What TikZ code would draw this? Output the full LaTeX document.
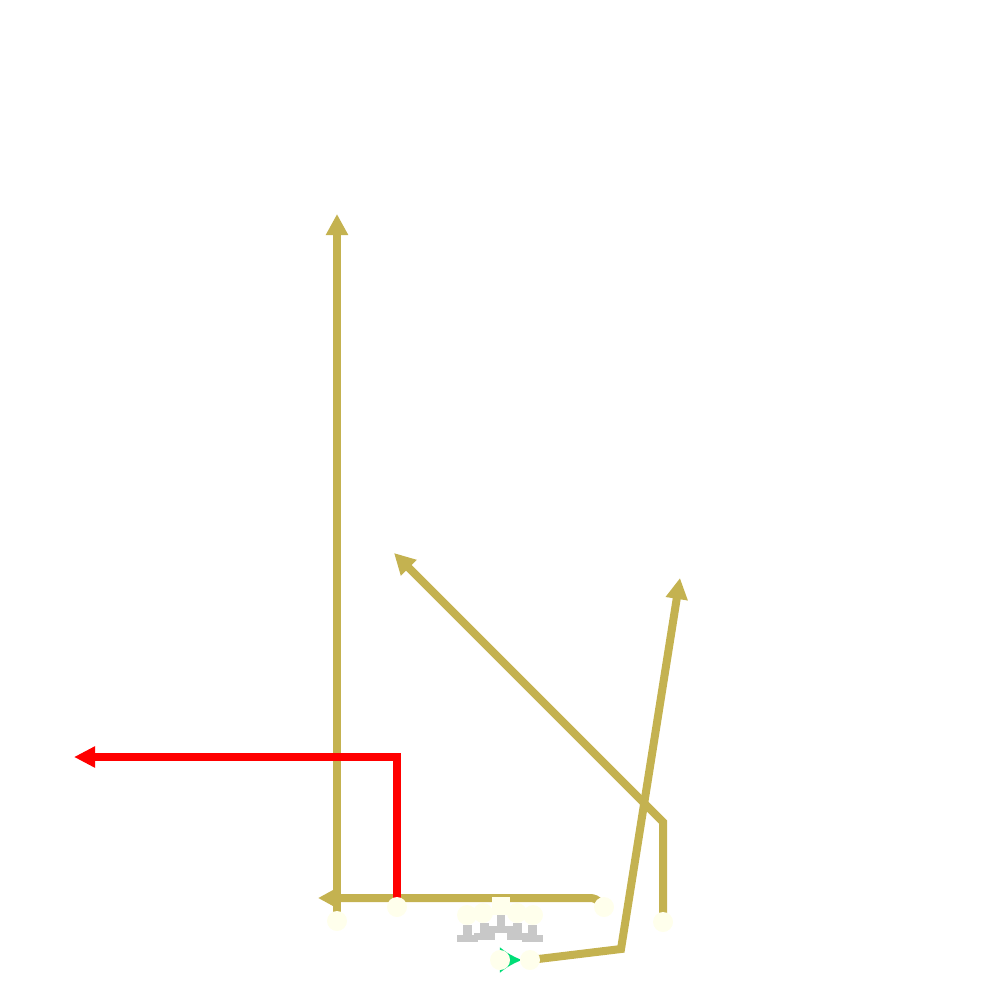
\documentclass[tikz,border=0pt]{standalone}
\usetikzlibrary{arrows.meta}
\definecolor{routegold}{RGB}{196,178,80}
\definecolor{playerivory}{RGB}{255,255,236}
\definecolor{blockgray}{RGB}{200,200,200}
\definecolor{motiongreen}{RGB}{0,221,119}
\pgfdeclarelayer{bg}
\pgfsetlayers{bg,main}
\begin{document}
\begin{tikzpicture}[x=0.01cm,y=-0.01cm,
  player/.style={circle,fill=playerivory,minimum size=0.2cm,inner sep=0pt},
  centerman/.style={rectangle,fill=playerivory,minimum size=0.18cm,inner sep=0pt},
  route/.style={draw=routegold,line width=0.08cm,-{Triangle[length=0.21cm,width=0.21cm]}},
  redroute/.style={draw=red,line width=0.085cm,-{Triangle[length=0.21cm,width=0.2cm]}},
  motion/.style={draw=motiongreen,line width=0.03cm,-{Latex[length=0.22cm,width=0.26cm]}},
  block/.style={fill=blockgray}]
\useasboundingbox (0,0) rectangle (1000,1000);
% players
\node[player] (wrL) at (337,921) {};
\node[player] (slot) at (397,907) {};
\node[player] (lt) at (467,915) {};
\node[player] (lg) at (483,913) {};
\node[centerman] (ctr) at (501,906) {};
\node[player] (rg) at (517,913) {};
\node[player] (rt) at (533,915) {};
\node[player] (te) at (604,907) {};
\node[player] (wrR) at (663,922) {};
\node[player] (qb) at (500,960) {};
\node[player] (rb) at (530,960) {};
% route end points
\coordinate (tipTop) at (337,214);
\coordinate (tipRed) at (74,757);
\coordinate (cRed) at (397,757);
\coordinate (tipFlat) at (318,898);
\coordinate (cFlat) at (604,898);
\coordinate (cPost) at (663,822);
\coordinate (tipPost) at (394,553);
\coordinate (cCross) at (621,949);
\coordinate (tipCross) at (680,578);
\coordinate (tipMotion) at (522,960);
\begin{pgfonlayer}{bg}
  % blocking marks
  \foreach \n/\x/\y in {lt/467/925,lg/484/923,rg/517/923,rt/532/925}{
    \fill[block] (\x-4.5,\y) rectangle (\x+4.5,\y+10);
    \fill[block] (\x-10.5,\y+10) rectangle (\x+10.5,\y+17);
  }
  \fill[block] (497,915) rectangle (505,926);
  \fill[block] (489,926) rectangle (513,933);
  % routes
  \draw[route] (wrL.center) -- (tipTop);
  \draw[route,rounded corners=4] (te.center) -- (cFlat) -- (tipFlat);
  \draw[route] (wrR.center) -- (cPost) -- (tipPost);
  \draw[route] (rb.center) -- (cCross) -- (tipCross);
  \draw[redroute] (slot.center) -- (cRed) -- (tipRed);
  \draw[motion] (qb.center) -- (tipMotion);
\end{pgfonlayer}
\end{tikzpicture}
\end{document}
